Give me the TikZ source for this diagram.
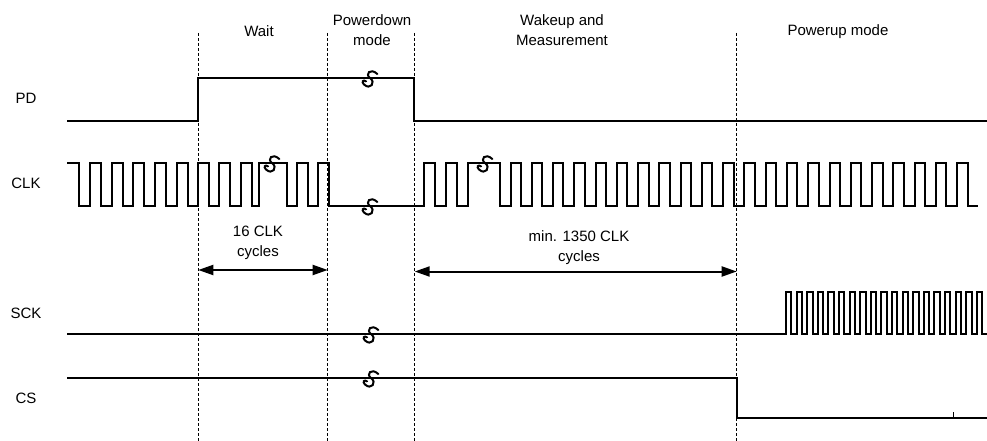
\documentclass[tikz,border=0pt]{standalone}
\usepackage{fontspec}
\setmainfont{Liberation Sans}
\usetikzlibrary{arrows.meta}
\begin{document}
\begin{tikzpicture}[x=1pt,y=-1pt,
  sig/.style={line width=2pt,line join=miter,line cap=rect},
  guide/.style={line width=0.8pt,dash pattern=on 3pt off 2pt},
  dim/.style={line width=2pt,{Triangle[length=15pt,width=10pt]}-{Triangle[length=15pt,width=10pt]}},
  lbl/.style={font=\fontsize{15}{20}\selectfont,align=center,inner sep=0pt},
  brk/.pic={\draw[line width=2pt,line cap=round,rotate=-35,scale=1.25] (3,-6) .. controls (-5,-7) and (-5,0) .. (0,0) .. controls (6,0) and (6,8) .. (-1,7) .. controls (-4,6.5) and (-4,4) .. (-1,4);}]
\useasboundingbox (0,0) rectangle (987,441);
\fill[white] (0,0) rectangle (987,441);
% guide lines
\coordinate (g1t) at (198.3,33); \coordinate (g1b) at (198.3,441);
\coordinate (g2t) at (327.7,33); \coordinate (g2b) at (327.7,441);
\coordinate (g3t) at (414.7,33); \coordinate (g3b) at (414.7,441);
\coordinate (g4t) at (736.7,33); \coordinate (g4b) at (736.7,441);
\draw[guide] (g1t) -- (g1b);
\draw[guide] (g2t) -- (g2b);
\draw[guide] (g3t) -- (g3b);
\draw[guide] (g4t) -- (g4b);
% phase labels
\node[lbl] (wait) at (259,31) {Wait};
\node[lbl] (pdm) at (372,30) {Powerdown\\mode};
\node[lbl] (wum) at (562,30) {Wakeup and\\Measurement};
\node[lbl] (pum) at (838,32) {Powerup mode};
% signal labels
\node[lbl] (lpd) at (26,98) {PD};
\node[lbl] (lclk) at (26,183) {CLK};
\node[lbl] (lsck) at (26,313) {SCK};
\node[lbl] (lcs) at (26,398) {CS};
% PD
\draw[sig] (68.3,121) -| (198.3,77.7) -| (414.3,121) -- (987,121);
% CLK
\draw[sig] (68.3,163) -| (79.3,206) -| (90,163) -| (100.7,206) -| (111.7,163) -| (122.7,206) -| (133.3,163) -| (144.3,206) -| (155,163) -| (166,206) -| (176.7,163) -| (187.7,206) -| (198.3,163) -| (209.3,206) -| (219.3,163) -| (230,206) -| (241,163) -| (251.7,206) -| (259.3,163) -| (286.7,206) -| (297.3,163) -| (308.3,206) -| (318.3,163) -| (329.3,206) -| (424,163) -| (435,206) -| (446,163) -| (456.7,206) -| (468.3,163) -| (500,206)
  foreach \k in {0,...,21}{ -| ({510.5+21.27*\k},163) -| ({520.9+21.27*\k},206) } -- (977,206);
% SCK
\draw[sig] (68.3,334) -| (786,292)
  -| (791.3,334) foreach \k in {1,...,18}{ -| ({786+10.6*\k},292) -| ({791.3+10.6*\k},334) } -- (986,334);
% CS
\draw[sig] (68.3,378) -| (736.7,418) -- (987,418);
\draw[line width=1pt] (953,412) -- (953,418);
% break symbols
\pic at (370,78) {brk};
\pic at (272,163) {brk};
\pic at (370,206) {brk};
\pic at (485,163) {brk};
\pic at (371,334) {brk};
\pic at (371,378) {brk};
% dimension arrows
\coordinate (a1l) at (198.3,270); \coordinate (a1r) at (327.7,270);
\coordinate (a2l) at (414.7,271.5); \coordinate (a2r) at (736.7,271.5);
\draw[dim] (a1l) -- (a1r);
\draw[dim] (a2l) -- (a2r);
\node[lbl] (t1) at (258,243) {16 CLK\\cycles};
\node[lbl] (t2) at (579,248) {min. 1350 CLK\\cycles};
\end{tikzpicture}
\end{document}
